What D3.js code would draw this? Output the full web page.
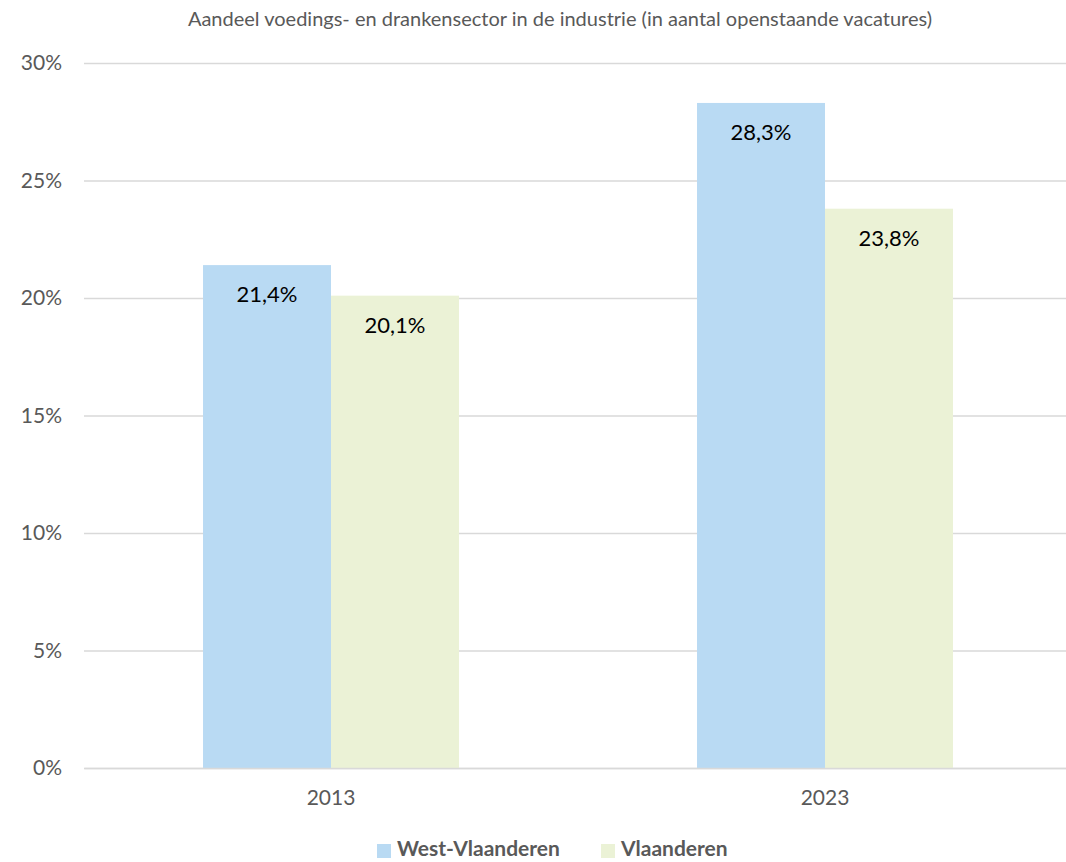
<!DOCTYPE html>
<html><head><meta charset="utf-8">
<script src="https://cdn.jsdelivr.net/npm/d3@7"></script>
<style>body{margin:0;background:#fff}svg{display:block}text{font-family:Lato,"Open Sans",sans-serif}</style>
</head><body><svg id="c" width="1066" height="862"></svg>
<script>
const title = "Aandeel voedings- en drankensector in de industrie (in aantal openstaande vacatures)";
const categories = ["2013", "2023"];
const seriesNames = ["West-Vlaanderen", "Vlaanderen"];
const westVlaanderen = [21.4, 28.3];
const vlaanderen = [20.1, 23.8];
const yTicks = [0, 5, 10, 15, 20, 25, 30];
const colors = ["#b9daf3", "#ebf2d6"];

const svg = d3.select("#c");
const m = {left: 84, right: 1072, top: 63, bottom: 768};
const x = d3.scaleBand().domain(categories).range([m.left, m.right]);
const xs = d3.scaleBand().domain(seriesNames).range([0, x.bandwidth()]).paddingInner(0).paddingOuter(0.93);
const y = d3.scaleLinear().domain([0, 30]).range([m.bottom, m.top]);

svg.append("text").attr("x", 560).attr("y", 26).attr("text-anchor", "middle")
  .attr("font-size", 20).attr("fill", "#595959").text(title);

const gy = svg.append("g").attr("transform", `translate(${m.left},0)`)
  .call(d3.axisLeft(y).tickValues(yTicks).tickSize(-(m.right - m.left)).tickFormat(d => d + "%").tickPadding(22));
gy.select(".domain").remove();
gy.selectAll(".tick line").attr("stroke", "#d9d9d9").attr("stroke-width", 1.5);
gy.selectAll(".tick text").attr("font-size", 21).attr("fill", "#595959").attr("font-family", "Lato");

const data = [westVlaanderen, vlaanderen];
const g = svg.append("g");
categories.forEach((c, i) => {
  seriesNames.forEach((s, j) => {
    const v = data[j][i];
    g.append("rect").attr("x", x(c) + xs(s)).attr("width", xs.bandwidth())
      .attr("y", y(v)).attr("height", y(0) - y(v)).attr("fill", colors[j]);
    g.append("text").attr("x", x(c) + xs(s) + xs.bandwidth() / 2).attr("y", y(v) + 37)
      .attr("text-anchor", "middle").attr("font-size", 22).attr("fill", "#000")
      .text(d3.format(".1f")(v).replace(".", ",") + "%");
  });
});

const gx = svg.append("g").attr("transform", `translate(0,${m.bottom})`)
  .call(d3.axisBottom(x).tickSize(0).tickPadding(22));
gx.select(".domain").attr("stroke", "#d9d9d9").attr("stroke-width", 1.5);
gx.selectAll(".tick text").attr("font-size", 21).attr("fill", "#595959").attr("font-family", "Lato");

const leg = svg.append("g");
const legX = [377, 601];
seriesNames.forEach((s, j) => {
  leg.append("rect").attr("x", legX[j]).attr("y", 844).attr("width", 14).attr("height", 14).attr("fill", colors[j]);
  leg.append("text").attr("x", legX[j] + 20).attr("y", 856).attr("font-size", 21).attr("font-weight", "bold")
    .attr("fill", "#595959").text(s);
});
</script></body></html>
